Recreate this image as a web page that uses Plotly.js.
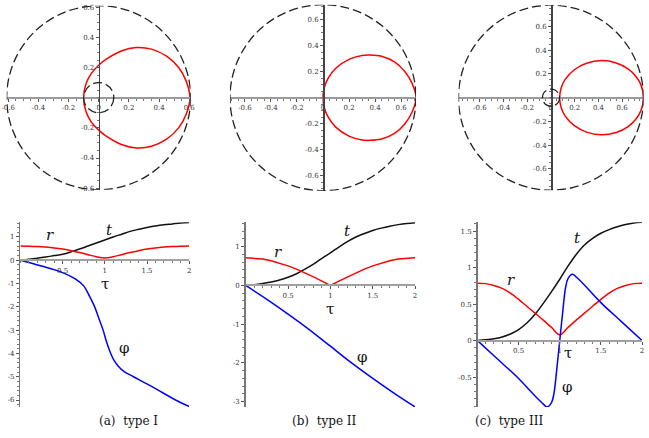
<!DOCTYPE html>
<html>
<head>
<meta charset="utf-8">
<script src="https://cdn.plot.ly/plotly-3.0.1.min.js"></script>
<style>
  html, body { margin: 0; padding: 0; background: #fff; }
  #plot { width: 649px; height: 438px; }
</style>
</head>
<body>
<div id="plot"></div>
<script>
// ---- data ----

// boundary circles (r max / r min) for the three orbit types
var rMax = [0.61, 0.715, 0.78];
var rMin = [0.1, 0, 0.072];

// orbits, upper half (lower half is the mirror image)
var orbitAx = [-0.1, -0.085, -0.05, 0, 0.05, 0.15, 0.25, 0.35, 0.45, 0.53, 0.58, 0.605];
var orbitAy = [0, 0.09, 0.16, 0.215, 0.255, 0.31, 0.333, 0.322, 0.275, 0.2, 0.11, 0];
var orbitBx = [0, 0.01, 0.04, 0.1, 0.2, 0.3, 0.36, 0.45, 0.55, 0.63, 0.685, 0.715];
var orbitBy = [0, 0.077, 0.15, 0.228, 0.295, 0.325, 0.328, 0.318, 0.275, 0.2, 0.11, 0];
var orbitCx = [0.073, 0.085, 0.12, 0.2, 0.3, 0.425, 0.55, 0.65, 0.72, 0.76, 0.78];
var orbitCy = [0, 0.08, 0.155, 0.238, 0.29, 0.313, 0.293, 0.243, 0.175, 0.104, 0];

// t(tau) and r(tau)
var tau = [0, 0.1, 0.2, 0.3, 0.4, 0.5, 0.6, 0.7, 0.8, 0.9, 1, 1.1, 1.2, 1.3, 1.4, 1.5, 1.6, 1.7, 1.8, 1.9, 2];
var tA = [0, 0.04, 0.09, 0.14, 0.2, 0.26, 0.36, 0.48, 0.61, 0.74, 0.87, 1.0, 1.12, 1.24, 1.33, 1.41, 1.47, 1.52, 1.56, 1.6, 1.62];
var rA = [0.61, 0.605, 0.59, 0.565, 0.53, 0.48, 0.41, 0.33, 0.24, 0.15, 0.1, 0.15, 0.24, 0.33, 0.41, 0.48, 0.53, 0.565, 0.59, 0.605, 0.61];
var tB = [0, 0.02, 0.05, 0.09, 0.14, 0.21, 0.3, 0.42, 0.55, 0.7, 0.84, 0.99, 1.13, 1.25, 1.34, 1.42, 1.48, 1.53, 1.57, 1.6, 1.62];
var rB = [0.715, 0.706, 0.68, 0.637, 0.578, 0.505, 0.42, 0.325, 0.221, 0.112, 0, 0.112, 0.221, 0.325, 0.42, 0.505, 0.578, 0.637, 0.68, 0.706, 0.715];
var tC = [0, 0.01, 0.025, 0.05, 0.09, 0.15, 0.24, 0.36, 0.51, 0.67, 0.84, 1.02, 1.18, 1.31, 1.4, 1.47, 1.52, 1.56, 1.59, 1.61, 1.62];
var rC = [0.785, 0.78, 0.755, 0.715, 0.65, 0.565, 0.47, 0.375, 0.28, 0.18, 0.08, 0.18, 0.28, 0.375, 0.47, 0.565, 0.65, 0.715, 0.755, 0.78, 0.785];

// phi(tau)
var phiTauA = [0, 0.25, 0.5, 0.65, 0.75, 0.82, 0.88, 0.93, 0.98, 1.02, 1.07, 1.11, 1.16, 1.23, 1.34, 1.57, 1.85, 2];
var phiA = [0, -0.25, -0.53, -0.8, -1.1, -1.55, -2.0, -2.5, -3.0, -3.5, -4.0, -4.3, -4.55, -4.78, -5.0, -5.45, -6.02, -6.28];
var phiTauB = [0, 0.25, 0.5, 0.75, 1, 1.25, 1.5, 1.75, 2];
var phiB = [0, -0.36, -0.74, -1.14, -1.57, -2.0, -2.4, -2.78, -3.14];
var phiTauC = [0, 0.25, 0.5, 0.7, 0.8, 0.845, 0.9, 0.93, 0.965, 1, 1.035, 1.07, 1.1, 1.155, 1.2, 1.3, 1.5, 1.75, 2];
var phiC = [0, -0.26, -0.52, -0.76, -0.87, -0.91, -0.85, -0.72, -0.38, 0, 0.38, 0.72, 0.85, 0.91, 0.87, 0.76, 0.52, 0.26, 0];

// tick labels
var orbitTicks = [[-0.6, -0.4, -0.2, 0, 0.2, 0.4, 0.6], [-0.6, -0.4, -0.2, 0, 0.2, 0.4, 0.6], [-0.6, -0.4, -0.2, 0, 0.2, 0.4, 0.6]];
var tauTicks = [0.5, 1, 1.5, 2];
var yTicksA = [1, 0, -1, -2, -3, -4, -5, -6];
var yTicksB = [1, 0, -1, -2, -3];
var yTicksC = [1.5, 1, 0.5, 0, -0.5];
var yRanges = [[-6.3, 1.63], [-3.14, 1.63], [-0.91, 1.62]];
var captions = ["(a)  type I", "(b)  type II", "(c)  type III"];

// ---- layout helpers ----
var W = 649, H = 438;
function dx(a, b) { return [a / W, b / W]; }
function dy(top, bottom) { return [1 - bottom / H, 1 - top / H]; }
var serif = "DejaVu Serif";

function closed(xs, ys) {
  var x = xs.slice(), y = ys.slice();
  for (var i = xs.length - 2; i >= 0; i--) { x.push(xs[i]); y.push(-ys[i]); }
  return { x: x, y: y };
}

function axis(domain, range, vals, minorStep, extra) {
  var a = {
    domain: domain, range: range,
    tickmode: "array", tickvals: vals, ticktext: vals.map(String),
    showgrid: false, zeroline: false, showline: true,
    ticks: "outside", ticklen: 3, tickwidth: 1, tickcolor: "#555",
    minor: { ticks: "outside", ticklen: 2, tickcolor: "#777", tickmode: "linear", tick0: 0, dtick: minorStep },
    tickfont: { family: serif, size: 7, color: "#333" },
    fixedrange: true
  };
  for (var k in extra) a[k] = extra[k];
  return a;
}

var topX = [dx(6.7, 190.7), dx(230, 416), dx(458.5, 643.5)];
var topY = [dy(5.7, 189.7), dy(4.7, 190.7), dy(5.2, 190.2)];
var botX = [dx(20.4, 189.2), dx(245.7, 415.1), dx(477.5, 642)];
var botY = dy(222.3, 407);

var orbits = [closed(orbitAx, orbitAy), closed(orbitBx, orbitBy), closed(orbitCx, orbitCy)];
var ts = [tA, tB, tC], rs = [rA, rB, rC];
var phiTaus = [phiTauA, phiTauB, phiTauC], phis = [phiA, phiB, phiC];
var yTicks = [yTicksA, yTicksB, yTicksC];
var yMinor = [0.2, 0.2, 0.1];

var traces = [], shapes = [], annotations = [];
var layout = {
  width: W, height: H,
  margin: { l: 0, r: 0, t: 0, b: 0 },
  paper_bgcolor: "#fff", plot_bgcolor: "rgba(0,0,0,0)",
  font: { family: serif },
  showlegend: false
};

for (var i = 0; i < 3; i++) {
  var n = i + 1, m = i + 4;
  var R = rMax[i];

  // top row: orbit with dashed boundary circles
  layout["xaxis" + (n === 1 ? "" : n)] = axis(topX[i], [-R, R], orbitTicks[i], 0.05, {
    anchor: "free", position: (topY[i][0] + topY[i][1]) / 2,
    linecolor: "#9a9a9a", linewidth: 2
  });
  layout["yaxis" + (n === 1 ? "" : n)] = axis(topY[i], [-R, R], orbitTicks[i].filter(function (v) { return v !== 0; }), 0.05, {
    anchor: "free", position: (topX[i][0] + topX[i][1]) / 2,
    linecolor: "#444", linewidth: 1.5
  });

  var xr = n === 1 ? "x" : "x" + n, yr = n === 1 ? "y" : "y" + n;
  [rMax[i], rMin[i]].forEach(function (rad) {
    if (rad > 0) {
      shapes.push({
        type: "circle", xref: xr, yref: yr, x0: -rad, x1: rad, y0: -rad, y1: rad,
        line: { color: "#222", width: 1.3, dash: "9px,4px" }
      });
    }
  });
  traces.push({
    x: orbits[i].x, y: orbits[i].y, xaxis: xr, yaxis: yr,
    type: "scatter", mode: "lines", line: { color: "#ff0000", width: 1.5, shape: "spline" },
    hoverinfo: "skip"
  });

  // bottom row: t, r, phi vs tau
  var yR = yRanges[i];
  layout["xaxis" + m] = axis(botX[i], [0, 2], tauTicks, 0.1, {
    anchor: "free", position: botY[0] + (0 - yR[0]) / (yR[1] - yR[0]) * (botY[1] - botY[0]),
    linecolor: "#a0a0a0", linewidth: 2
  });
  layout["yaxis" + m] = axis(botY, yR, yTicks[i], yMinor[i], {
    anchor: "x" + m, linecolor: "#777", linewidth: 1.5
  });

  traces.push({
    x: tau, y: ts[i], xaxis: "x" + m, yaxis: "y" + m, type: "scatter", mode: "lines",
    line: { color: "#111", width: 1.5, shape: "spline" }, hoverinfo: "skip"
  });
  traces.push({
    x: tau, y: rs[i], xaxis: "x" + m, yaxis: "y" + m, type: "scatter", mode: "lines",
    line: { color: "#ff0000", width: 1.5, shape: i === 1 ? "linear" : "spline" }, hoverinfo: "skip"
  });
  traces.push({
    x: phiTaus[i], y: phis[i], xaxis: "x" + m, yaxis: "y" + m, type: "scatter", mode: "lines",
    line: { color: "#0000ff", width: 1.5, shape: "spline" }, hoverinfo: "skip"
  });

  annotations.push({
    text: captions[i], xref: "paper", yref: "paper",
    x: [96.7, 324.3, 545.3][i] / W, y: 1 - 430 / H, showarrow: false,
    font: { family: serif, size: 12, color: "#111" }
  });
}

// curve labels in data coordinates of the bottom panels
var labelPos = [
  { r: [0.35, 1.09], t: [1.06, 1.3], tau: [1.0, -1.0], phi: [1.23, -3.77] },
  { r: [0.38, 0.87], t: [1.2, 1.41], tau: [1.0, -0.62], phi: [1.38, -1.85] },
  { r: [0.41, 0.83], t: [1.22, 1.4], tau: [1.1, -0.17], phi: [1.09, -0.63] }
];
labelPos.forEach(function (p, i) {
  var m = i + 4;
  [["<i>r</i>", p.r], ["<i>t</i>", p.t], ["τ", p.tau], ["φ", p.phi]].forEach(function (l) {
    annotations.push({
      text: l[0], xref: "x" + m, yref: "y" + m, x: l[1][0], y: l[1][1],
      showarrow: false, borderpad: 0, font: { family: serif, size: 15, color: "#111" }
    });
  });
});

layout.shapes = shapes;
layout.annotations = annotations;

Plotly.newPlot("plot", traces, layout, { displayModeBar: false, staticPlot: true });
</script>
</body>
</html>
